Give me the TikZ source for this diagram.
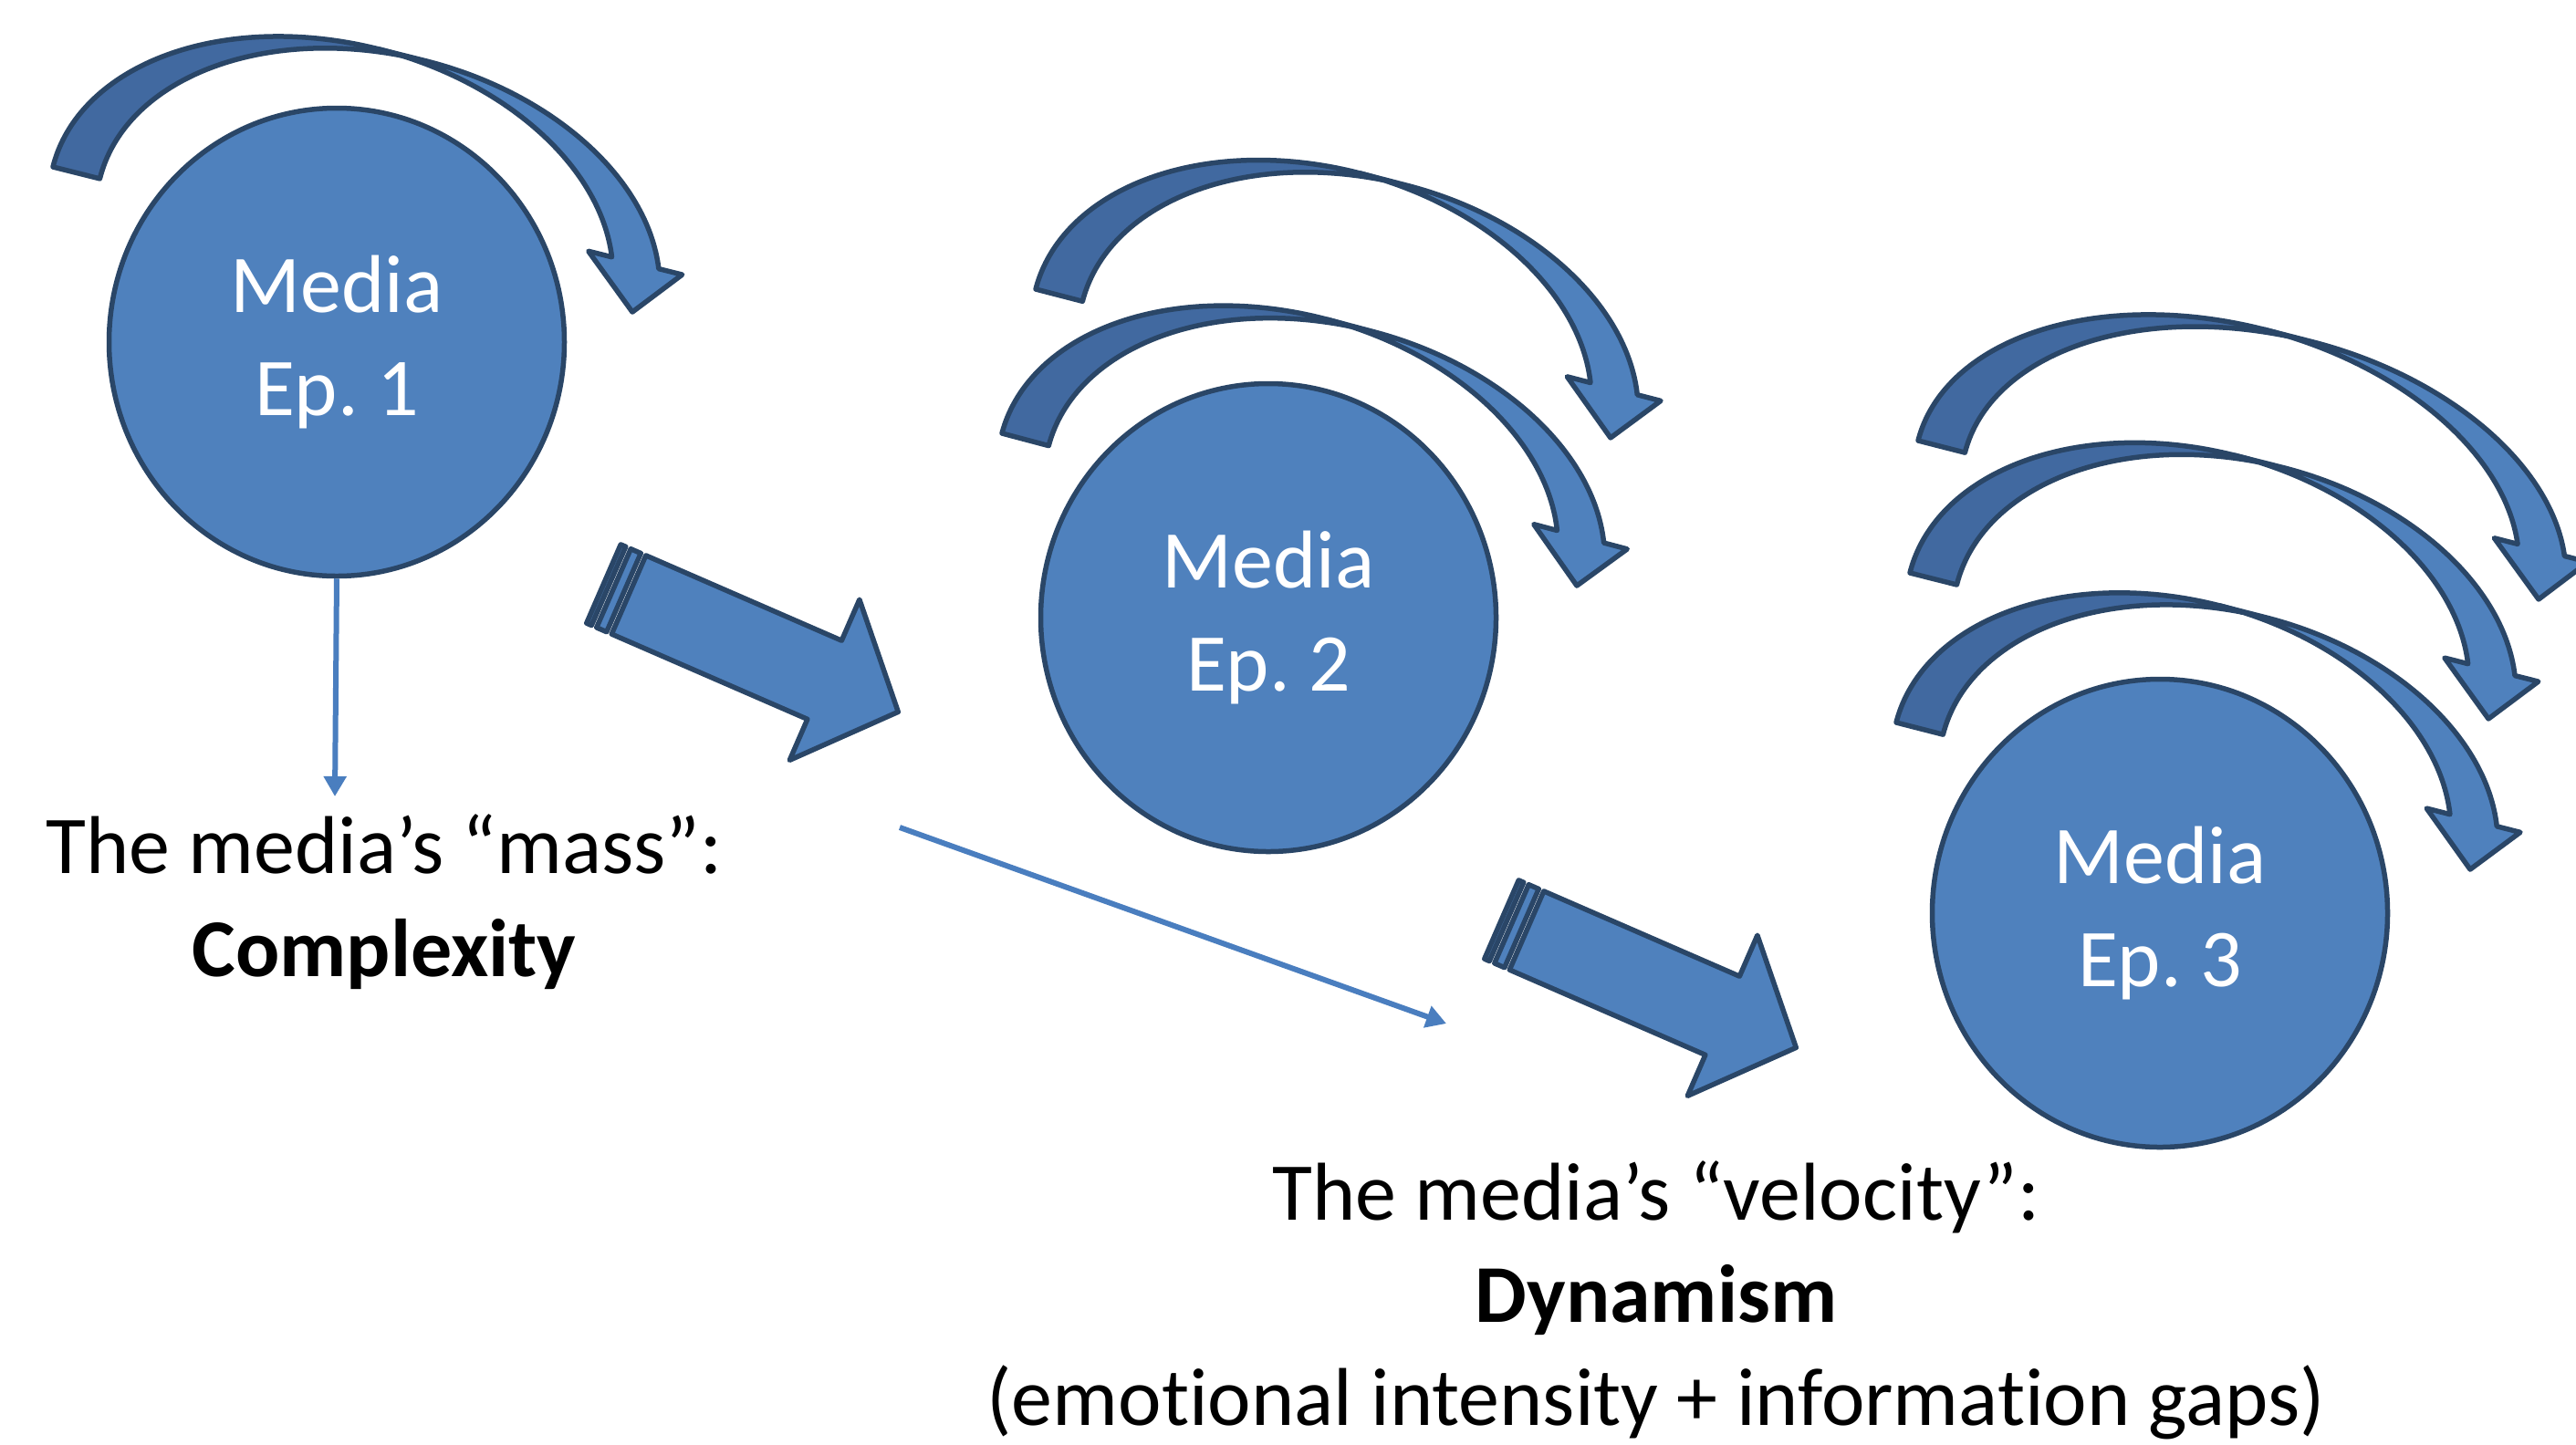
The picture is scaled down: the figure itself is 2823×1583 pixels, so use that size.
\documentclass[tikz,border=0pt]{standalone}
\usepackage{fontspec}
\setmainfont{Carlito}[Ligatures=NoCommon]
\usetikzlibrary{shapes.geometric,arrows.meta}

\definecolor{mediablue}{HTML}{4F81BD}
\definecolor{mediaback}{HTML}{4169A0}
\definecolor{mediaedge}{HTML}{2A4667}
\definecolor{linkblue}{HTML}{4A7EBF}

\newcommand{\bigtext}{\fontsize{90}{112.5}\selectfont}
\frenchspacing

\tikzset{
  face/.style={fill=mediablue, draw=mediaedge, line width=5.5pt, line join=round},
  backface/.style={fill=mediaback, draw=mediaedge, line width=5.5pt, line join=round},
  episode/.style={ellipse, fill=mediablue, draw=mediaedge, line width=5.5pt,
    minimum width=499pt, minimum height=513pt, inner sep=0pt,
    text=white, align=center, font=\bigtext},
  caption/.style={align=center, font=\bigtext, text=black, inner sep=0pt},
  pointer/.style={draw=linkblue, line width=6pt, -{Triangle[width=24pt,length=22pt]}}
}

% Curved down arrow: #1,#2 = outer tail corner (x right, y down),
% #3 = clockwise tilt in degrees, #4 = distance from tail corner to tip.
% Band thickness 53, head width 106, head height 53, arc height 212.
\newcommand{\swoosh}[4]{%
  \begin{scope}[shift={(#1,-#2)}, rotate=-#3]
    \pgfmathsetmacro{\swR}{(#4+53)/2-39.75}
    \pgfmathsetmacro{\sdX}{\swR*0.968246}
    \pgfmathsetmacro{\stA}{acos(26.5/\swR)}
    \pgfmathsetmacro{\stB}{180-\stA}
    \pgfmathsetmacro{\siY}{212*sin(\stA)}
    % front face with the head
    \draw[face] (#4,0) -- ({\swR+\sdX-26.5},53) -- ({\swR+\sdX},53)
      arc[start angle=14.4775, end angle=90, x radius=\swR pt, y radius=212pt]
      -- ({\swR+53},212)
      arc[start angle=90, end angle=14.4775, x radius=\swR pt, y radius=212pt]
      -- ({\swR+53+\sdX+26.5},53) -- cycle;
    % back face towards the tail
    \draw[backface] ({\swR+26.5},\siY)
      arc[start angle=\stB, end angle=180, x radius=\swR pt, y radius=212pt]
      -- (0,0)
      arc[start angle=180, end angle=\stA, x radius=\swR pt, y radius=212pt]
      -- cycle;
  \end{scope}}

% Striped block arrow: #1,#2 = tail centre (x right, y down), #3 = clockwise tilt.
\newcommand{\pushpoint}[3]{%
  \begin{scope}[shift={(#1,-#2)}, rotate=-#3]
    \draw[face] (0,-47) rectangle (6,47);
    \draw[face] (12,-47) rectangle (24,47);
    \draw[face] (30,47) -- (264,47) -- (264,96) -- (352,0)
      -- (264,-96) -- (264,-47) -- (30,-47) -- cycle;
  \end{scope}}

\begin{document}
\begin{tikzpicture}[x=1pt, y=1pt]
  \useasboundingbox (0,0) rectangle (2823,-1583);
  \fill[white] (0,0) rectangle (2823,-1583);
  \clip (0,0) rectangle (2823,-1583);

  % episode 1
  \swoosh{58}{183}{14.06}{654.6}
  \node[episode] (ep1) at (369,-375) {Media\\Ep. 1};

  % episode 2
  \swoosh{1135}{317}{14.5}{650.7}
  \swoosh{1098}{475}{14.85}{651.8}
  \node[episode] (ep2) at (1390,-677) {Media\\Ep. 2};

  % episode 3
  \swoosh{2102}{483}{14.35}{701.9}
  \swoosh{2093}{628}{14.16}{653.9}
  \swoosh{2078}{792}{14.36}{649.3}
  \node[episode] (ep3) at (2367,-1001) {Media\\Ep. 3};

  % progression arrows
  \pushpoint{661.5}{640}{23.5}
  \pushpoint{1645.5}{1008}{23.5}

  % captions (base anchor sits on the last line)
  \node[caption, anchor=base] (mass) at (421,-1070)
    {The media’s “mass”:\\\textbf{Complexity}};
  \node[caption, anchor=base] (velocity) at (1815,-1562)
    {The media’s “velocity”:\\\textbf{Dynamism}\\(emotional intensity + information gaps)};

  % pointers to the captions
  \coordinate (massend) at (367,-873);
  \draw[pointer] (ep1.south) -- (massend);
  \coordinate (velstart) at (986,-907);
  \coordinate (velend) at (1585,-1122);
  \draw[pointer] (velstart) -- (velend);
\end{tikzpicture}
\end{document}
